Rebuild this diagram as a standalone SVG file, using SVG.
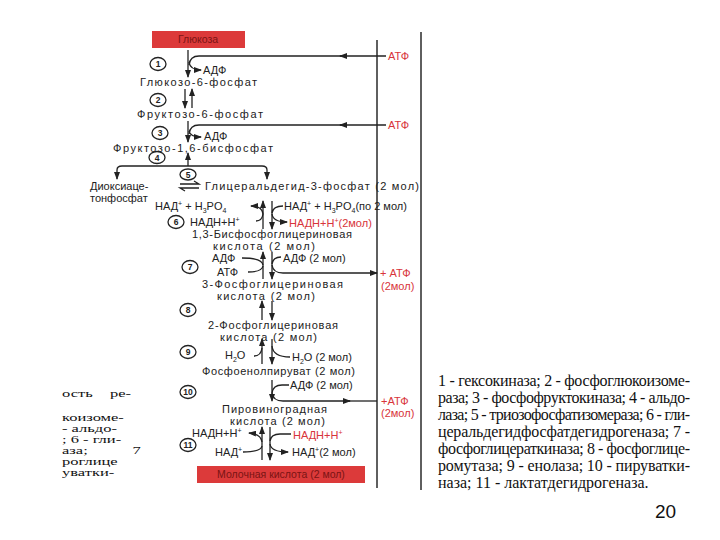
<svg xmlns="http://www.w3.org/2000/svg" width="720" height="540" viewBox="0 0 720 540">
<style>
.t{font-family:"Liberation Sans",Arial,sans-serif;font-size:11px;fill:#222}
.r{fill:#d8343a}
.n{font-family:"Liberation Sans",Arial,sans-serif;font-size:8.5px;font-weight:bold;fill:#222;text-anchor:middle}
.c{fill:none;stroke:#222;stroke-width:1.3}
.ln{fill:none;stroke:#2a2a2a;stroke-width:1.5}
.s{font-family:"Liberation Serif","Times New Roman",serif;font-size:16px;fill:#111}
.f{font-family:"Liberation Serif","Times New Roman",serif;font-size:11px;fill:#111}
.box{fill:#dc3a3a}
.bt{font-family:"Liberation Sans",Arial,sans-serif;font-size:10.5px;fill:#7a1414;text-anchor:middle}
</style>
<defs>
<marker id="ah" markerWidth="8" markerHeight="6" refX="7" refY="3" orient="auto" markerUnits="userSpaceOnUse">
<path d="M0,0 L8,3 L0,6 z" fill="#222"/>
</marker>
</defs>
<rect width="720" height="540" fill="#fff"/>

<g id="connectors">
<line class="ln" x1="377" y1="40" x2="377" y2="488"/>
<line class="ln" x1="421" y1="32" x2="421" y2="490"/>
<!-- step 1 -->
<line class="c" x1="188" y1="50" x2="188" y2="77" marker-end="url(#ah)"/>
<path class="c" d="M386,56 H340" marker-end="url(#ah)"/>
<path class="c" d="M342,56 H199 Q190,56 189,65"/>
<path class="c" d="M189,62 Q190,70 201,70" marker-end="url(#ah)"/>
<!-- step 2 -->
<line class="c" x1="185" y1="89" x2="185" y2="108" marker-end="url(#ah)"/>
<line class="c" x1="192" y1="108" x2="192" y2="89" marker-end="url(#ah)"/>
<!-- step 3 -->
<line class="c" x1="188" y1="121" x2="188" y2="142" marker-end="url(#ah)"/>
<path class="c" d="M386,125 H340" marker-end="url(#ah)"/>
<path class="c" d="M342,125 H199 Q190,125 189,134"/>
<path class="c" d="M189,131 Q190,137 201,137" marker-end="url(#ah)"/>
<!-- step 4 -->
<line class="c" x1="188" y1="166" x2="188" y2="153" marker-end="url(#ah)"/>
<path class="c" d="M188,166 H122 Q117,166 117,170 V179" marker-end="url(#ah)"/>
<path class="c" d="M188,166 H262 Q267,166 267,170 V179" marker-end="url(#ah)"/>
<!-- step 5 -->
<path class="c" d="M180,184 H199 L194,181"/>
<path class="c" d="M199,188 H180 L185,191"/>
<!-- step 6 -->
<line class="c" x1="263" y1="229" x2="263" y2="201" marker-end="url(#ah)"/>
<line class="c" x1="272" y1="201" x2="272" y2="229" marker-end="url(#ah)"/>
<path class="c" d="M263,214 Q262,206 251,206" marker-end="url(#ah)"/>
<path class="c" d="M256,221 Q262,221 263,214"/>
<path class="c" d="M283,206 Q273,206 272,213"/>
<path class="c" d="M272,214 Q273,222 287,222" marker-end="url(#ah)"/>
<!-- step 7 -->
<line class="c" x1="263" y1="279" x2="263" y2="252" marker-end="url(#ah)"/>
<line class="c" x1="272" y1="252" x2="272" y2="279" marker-end="url(#ah)"/>
<path class="c" d="M263,265 Q262,258 242,258"/>
<path class="c" d="M248,272 Q262,272 263,266"/>
<path class="c" d="M281,257 Q273,257 272,264"/>
<path class="c" d="M272,265 Q273,273 283,273 H377" marker-end="url(#ah)"/>
<!-- step 8 -->
<line class="c" x1="262" y1="320" x2="262" y2="301" marker-end="url(#ah)"/>
<line class="c" x1="272" y1="301" x2="272" y2="320" marker-end="url(#ah)"/>
<!-- step 9 -->
<line class="c" x1="262" y1="364" x2="262" y2="339" marker-end="url(#ah)"/>
<line class="c" x1="272" y1="339" x2="272" y2="364" marker-end="url(#ah)"/>
<path class="c" d="M254,356 Q261,356 262,348"/>
<path class="c" d="M272,346 Q273,357 290,357"/>
<!-- step 10 -->
<line class="c" x1="272" y1="380" x2="272" y2="401" marker-end="url(#ah)"/>
<path class="c" d="M289,385 H282 Q273,385 272,393"/>
<path class="c" d="M272,393 Q273,401 283,401 H350" marker-end="url(#ah)"/>
<path class="c" d="M348,401 H377"/>
<!-- step 11 -->
<line class="c" x1="262" y1="460" x2="262" y2="427" marker-end="url(#ah)"/>
<line class="c" x1="270" y1="427" x2="270" y2="460" marker-end="url(#ah)"/>
<path class="c" d="M262,442 Q261,434 249,433" marker-end="url(#ah)"/>
<path class="c" d="M243,452 Q261,452 262,446"/>
<path class="c" d="M291,434 H280 Q271,434 270,441"/>
<path class="c" d="M270,444 Q271,452 288,452" marker-end="url(#ah)"/>
</g>

<g id="glucose">
<rect class="box" x="152" y="31" width="93" height="17"/>
<text class="bt" x="198" y="43">Глюкоза</text>
</g>
<g id="atp-labels">
<text class="t r" x="388" y="60">АТФ</text>
<text class="t r" x="388" y="129">АТФ</text>
<text class="t r" x="380" y="277">+ АТФ</text>
<text class="t r" x="381" y="290">(2мол)</text>
<text class="t r" x="381" y="405">+АТФ</text>
<text class="t r" x="381" y="417">(2мол)</text>
</g>
<g id="step1">
<ellipse class="c" cx="158" cy="64" rx="8" ry="6.5"/><text class="n" x="158" y="67">1</text>
<text class="t" x="203" y="74">АДФ</text>
</g>
<g id="g6p"><text class="t" x="140" y="86" textLength="117">Глюкозо-6-фосфат</text></g>
<g id="step2"><ellipse class="c" cx="158" cy="100" rx="8" ry="6.5"/><text class="n" x="158" y="103">2</text></g>
<g id="f6p"><text class="t" x="137" y="118" textLength="126">Фруктозо-6-фосфат</text></g>
<g id="step3">
<ellipse class="c" cx="160" cy="133" rx="8" ry="6.5"/><text class="n" x="160" y="136">3</text>
<text class="t" x="204" y="139.5">АДФ</text>
</g>
<g id="f16bp"><text class="t" x="113" y="152" textLength="160">Фруктозо-1,6-бисфосфат</text></g>
<g id="step4"><ellipse class="c" cx="157" cy="157.5" rx="8" ry="6"/><text class="n" x="157" y="160.5">4</text></g>
<g id="step5"><ellipse class="c" cx="188" cy="174.5" rx="8" ry="5.5"/><text class="n" x="188" y="177.5">5</text></g>
<g id="dhap">
<text class="t" x="90" y="190">Диоксиаце-</text>
<text class="t" x="90" y="202">тонфосфат</text>
</g>
<g id="gap"><text class="t" x="205" y="190" textLength="214">Глицеральдегид-3-фосфат (2 мол)</text></g>
<g id="step6">
<text class="t" x="155" y="210">НАД<tspan font-size="7" dy="-4">+</tspan><tspan dy="4"> + H</tspan><tspan font-size="7" dy="3">3</tspan><tspan dy="-3">PO</tspan><tspan font-size="7" dy="3">4</tspan></text>
<text class="t" x="284" y="210">НАД<tspan font-size="7" dy="-4">+</tspan><tspan dy="4"> + H</tspan><tspan font-size="7" dy="3">3</tspan><tspan dy="-3">PO</tspan><tspan font-size="7" dy="3">4</tspan><tspan dy="-3">(по 2 мол)</tspan></text>
<ellipse class="c" cx="176" cy="222" rx="8" ry="6.5"/><text class="n" x="176" y="225">6</text>
<text class="t" x="190" y="226">НАДН+Н<tspan font-size="7" dy="-4">+</tspan></text>
<text class="t r" x="289" y="227">НАДН+Н<tspan font-size="7" dy="-4">+</tspan><tspan dy="4">(2мол)</tspan></text>
</g>
<g id="bpg">
<text class="t" x="192" y="238" textLength="160">1,3-Бисфосфоглицериновая</text>
<text class="t" x="213" y="250" textLength="102">кислота (2 мол)</text>
</g>
<g id="step7">
<text class="t" x="212" y="262">АДФ</text>
<text class="t" x="283" y="262">АДФ (2 мол)</text>
<ellipse class="c" cx="190" cy="267" rx="8" ry="6.5"/><text class="n" x="190" y="270">7</text>
<text class="t" x="217" y="275.5">АТФ</text>
</g>
<g id="pg3">
<text class="t" x="202" y="288" textLength="141">3-Фосфоглицериновая</text>
<text class="t" x="217" y="299.5" textLength="98">кислота (2 мол)</text>
</g>
<g id="step8"><ellipse class="c" cx="188" cy="310" rx="8" ry="6.5"/><text class="n" x="188" y="313">8</text></g>
<g id="pg2">
<text class="t" x="208" y="329" textLength="130">2-Фосфоглицериновая</text>
<text class="t" x="220" y="341" textLength="97">кислота (2 мол)</text>
</g>
<g id="step9">
<ellipse class="c" cx="188" cy="352" rx="8" ry="6.5"/><text class="n" x="188" y="355">9</text>
<text class="t" x="225" y="359">H<tspan font-size="7" dy="3">2</tspan><tspan dy="-3">O</tspan></text>
<text class="t" x="292" y="361">H<tspan font-size="7" dy="3">2</tspan><tspan dy="-3">O (2 мол)</tspan></text>
</g>
<g id="pep"><text class="t" x="202" y="375" textLength="153">Фосфоенолпируват (2 мол)</text></g>
<g id="step10">
<ellipse class="c" cx="188" cy="392" rx="8" ry="6.5"/><text class="n" x="188" y="395">10</text>
<text class="t" x="290" y="389">АДФ (2 мол)</text>
</g>
<g id="pyruvate">
<text class="t" x="222" y="413" textLength="105">Пировиноградная</text>
<text class="t" x="230" y="425" textLength="95">кислота (2 мол)</text>
</g>
<g id="step11">
<text class="t" x="192" y="437">НАДН+Н<tspan font-size="7" dy="-4">+</tspan></text>
<ellipse class="c" cx="188" cy="445" rx="8" ry="6.5"/><text class="n" x="188" y="448">11</text>
<text class="t" x="215" y="456">НАД<tspan font-size="7" dy="-4">+</tspan></text>
<text class="t r" x="293" y="439">НАДН+Н<tspan font-size="7" dy="-4">+</tspan></text>
<text class="t" x="292" y="456">НАД<tspan font-size="7" dy="-4">+</tspan><tspan dy="4">(2 мол)</tspan></text>
</g>
<g id="lactate">
<rect class="box" x="197" y="466" width="168" height="17"/>
<text class="bt" x="281" y="478">Молочная кислота (2 мол)</text>
</g>

<g id="left-fragment" transform="translate(62,0) scale(1.5,1)">
<text class="f" x="0" y="397">ость<tspan x="32">ре-</tspan></text>
<text class="f" x="0" y="421">коизоме-</text>
<text class="f" x="0" y="432">- альдо-</text>
<text class="f" x="0" y="443">; 6 - гли-</text>
<text class="f" x="0" y="454">аза;<tspan x="47">7</tspan></text>
<text class="f" x="0" y="465">роглице</text>
<text class="f" x="0" y="476">уватки-</text>
</g>

<g id="legend">
<text class="s" x="438" y="386" textLength="252" lengthAdjust="spacing">1 - гексокиназа;  2 - фосфоглюкоизоме-</text>
<text class="s" x="438" y="403" textLength="252" lengthAdjust="spacing">раза; 3 - фосфофруктокиназа; 4 - альдо-</text>
<text class="s" x="438" y="420" textLength="252" lengthAdjust="spacing">лаза; 5 - триозофосфатизомераза; 6 - гли-</text>
<text class="s" x="438" y="437" textLength="252" lengthAdjust="spacing">церальдегидфосфатдегидрогеназа;  7 -</text>
<text class="s" x="438" y="454" textLength="252" lengthAdjust="spacing">фосфоглицераткиназа; 8 - фосфоглице-</text>
<text class="s" x="438" y="471" textLength="252" lengthAdjust="spacing">ромутаза; 9 - енолаза; 10 - пируватки-</text>
<text class="s" x="438" y="488">наза;  11 - лактатдегидрогеназа.</text>
</g>
<text x="655" y="518" font-family="Liberation Sans, Arial, sans-serif" font-size="19" fill="#111">20</text>
</svg>
